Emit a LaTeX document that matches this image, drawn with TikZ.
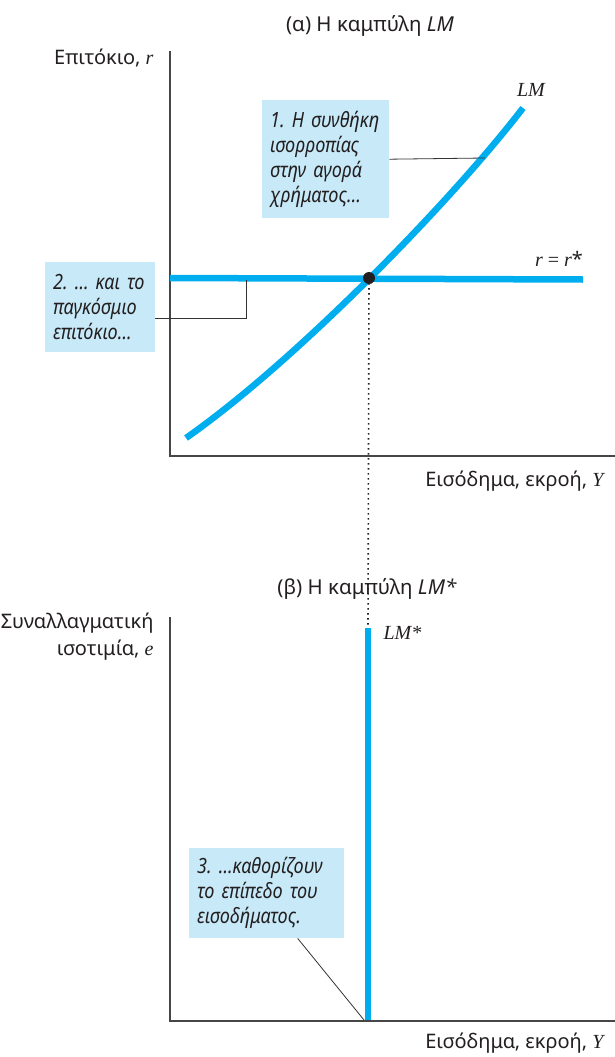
\documentclass[tikz,border=0pt]{standalone}
\usepackage{fontspec}
\setmainfont{Noto Sans}
\newfontfamily\notefont{Noto Sans}[FakeStretch=0.86]
\newfontfamily\varfont{Liberation Serif}
\usetikzlibrary{positioning}

\definecolor{curveblue}{RGB}{0,174,239}
\definecolor{notefill}{RGB}{199,233,248}
\definecolor{axisgray}{RGB}{70,70,70}
\definecolor{inkgray}{RGB}{35,31,32}

\newcommand{\var}[1]{{\varfont\itshape #1}}

\tikzset{
  curve/.style={line width=6.5pt, curveblue},
  axis/.style={line width=1.5pt, axisgray},
  lead/.style={line width=0.8pt, black!80},
  note/.style={fill=notefill, anchor=north west, inner xsep=8pt, inner ysep=0pt,
    align=left, text=inkgray, font=\notefont\itshape\fontsize{21}{25}\selectfont},
  title/.style={text=inkgray, font=\fontsize{20.5}{22}\selectfont},
  axlabel/.style={text=inkgray, font=\fontsize{20}{25}\selectfont, align=right}
}

\begin{document}
\frenchspacing
\begin{tikzpicture}[x=1pt,y=-1pt]
\useasboundingbox (0,0) rectangle (615,1057);

% (a) the LM curve
\node[title] (titleA) at (370,26) {(α) Η καμπύλη \textit{LM}};
\coordinate (oA) at (170,456);
\coordinate (yA) at (170,51);
\coordinate (xA) at (615,456);
\draw[axis] (yA) -- (oA) -- (xA);
\node[axlabel, anchor=base east] (ylabA) at (157,65) {Επιτόκιο, \var{r}};
\node[axlabel, anchor=base east] (xlabA) at (607,486) {Εισόδημα, εκροή, \var{Y}};

\coordinate (wl) at (170,278);
\coordinate (wr) at (583,279.5);
\draw[curve] (wl) -- (wr);
\draw[curve] (186,438) .. controls (297.6,359.9) and (452.7,199.4) .. (523,108);
\node[text=inkgray, font=\fontsize{20}{22}\selectfont, anchor=base] (lmlab) at (531,96) {\var{LM}};
\node[text=inkgray, font=\fontsize{20}{22}\selectfont, anchor=base] (rlab) at (559,266) {\var{r \upshape= \itshape r}*};

\node[circle, fill=inkgray, inner sep=0pt, minimum size=12pt] (eq) at (369,278) {};

\node[note, minimum width=127pt, minimum height=118pt, text width=111pt] (noteA) at (262,100)
  {1. Η συνθήκη\\ισορροπίας\\στην αγορά\\χρήματος…};
\coordinate (hitA) at (485,158);
\draw[lead] (noteA.east) -- (hitA);

\node[note, minimum width=110pt, minimum height=90pt, text width=94pt] (noteB) at (45,262)
  {2. … και το\\παγκόσμιο\\επιτόκιο…};
\coordinate (bendB) at (246,318);
\coordinate (hitB) at (246,280);
\draw[lead] (noteB.east |- bendB) -- (bendB) -- (hitB);

% (b) the LM* curve
\node[title] (titleB) at (367,589) {(β) Η καμπύλη \textit{LM*}};
\coordinate (oB) at (170,1021);
\coordinate (yB) at (170,617);
\coordinate (xB) at (615,1021);
\coordinate (lmtop) at (368,628);
\coordinate (lmbot) at (368,1021);
\draw[line width=1.6pt, dash pattern=on 1.6pt off 3.4pt, inkgray] (eq.center) -- (lmtop);
\draw[curve] (lmtop) -- (lmbot);
\draw[axis] (yB) -- (oB) -- (xB);
\node[axlabel, anchor=base east] (ylabB) at (157,628) {Συναλλαγματική};
\node[axlabel, below=0pt of ylabB.south east, anchor=north east] (ylabB2) {ισοτιμία, \var{e}};
\node[axlabel, anchor=base east] (xlabB) at (607,1048) {Εισόδημα, εκροή, \var{Y}};
\node[text=inkgray, font=\fontsize{20}{22}\selectfont, anchor=base west] (lmslab) at (380,639) {\var{LM*}};

\node[note, minimum width=155pt, minimum height=90pt, text width=139pt] (noteC) at (189,848)
  {3. …καθορίζουν\\το επίπεδο του\\εισοδήματος.};
\coordinate (hitC) at (364,1020);
\draw[lead] ([xshift=31pt]noteC.south) -- (hitC);
\end{tikzpicture}
\end{document}
